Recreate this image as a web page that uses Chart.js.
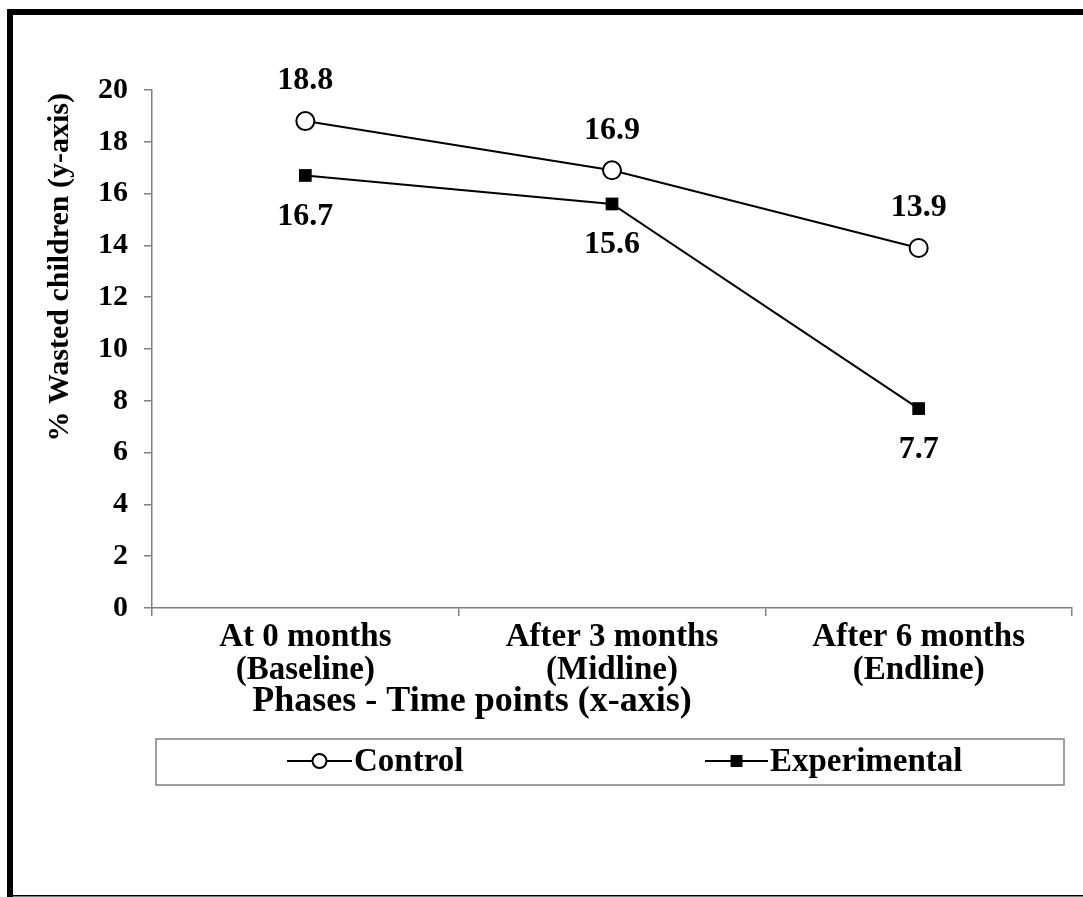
<!DOCTYPE html>
<html>
<head>
<meta charset="utf-8">
<script src="https://cdn.jsdelivr.net/npm/chart.js@4/dist/chart.umd.min.js"></script>
<style>
  html, body { margin: 0; padding: 0; background: #fff; }
  #wrap { width: 1083px; height: 897px; position: relative; }
</style>
</head>
<body>
<div id="wrap"><canvas id="wasting"></canvas></div>
<script>
var phases = [["At 0 months", "(Baseline)"], ["After 3 months", "(Midline)"], ["After 6 months", "(Endline)"]];
var controlValues = [18.8, 16.9, 13.9];
var experimentalValues = [16.7, 15.6, 7.7];
var yTicks = [0, 2, 4, 6, 8, 10, 12, 14, 16, 18, 20];

var serif = "'Liberation Serif', 'Times New Roman', serif";

// frame, value labels, axis titles and the boxed legend
var decorations = {
  id: 'decorations',
  afterDraw: function(chart) {
    var ctx = chart.ctx;
    var area = chart.chartArea;
    ctx.save();
    ctx.fillStyle = '#000';
    ctx.fillRect(7, 9, 1076, 6);
    ctx.fillRect(7, 9, 6, 888);
    ctx.fillRect(7, 895, 1076, 1.5);

    // value labels
    ctx.font = 'bold 32px ' + serif;
    ctx.textAlign = 'center';
    ctx.textBaseline = 'middle';
    chart.data.datasets.forEach(function(ds, i) {
      var meta = chart.getDatasetMeta(i);
      meta.data.forEach(function(pt, j) {
        var dy = i === 0 ? -40 : 41;
        ctx.fillText(ds.data[j].toFixed(1), pt.x, pt.y + dy);
      });
    });

    // axis titles
    ctx.font = 'bold 36px ' + serif;
    ctx.fillText('Phases - Time points (x-axis)', 472, 702);
    ctx.save();
    ctx.translate(60, 93);
    ctx.rotate(-Math.PI / 2);
    ctx.textAlign = 'right';
    ctx.font = 'bold 30px ' + serif;
    ctx.fillText('% Wasted children (y-axis)', 0, 0);
    ctx.restore();

    // legend box
    ctx.strokeStyle = '#808080';
    ctx.lineWidth = 1.5;
    ctx.strokeRect(156, 739, 908, 46);
    var items = [
      {x0: 287, x1: 352, text: 352},
      {x0: 705, x1: 768, text: 768}
    ];
    ctx.font = 'bold 33px ' + serif;
    ctx.textAlign = 'left';
    chart.data.datasets.forEach(function(ds, i) {
      var it = items[i];
      var cy = 761;
      ctx.strokeStyle = '#000';
      ctx.lineWidth = 2;
      ctx.beginPath();
      ctx.moveTo(it.x0, cy);
      ctx.lineTo(it.x1, cy);
      ctx.stroke();
      ctx.fillStyle = ds.pointBackgroundColor;
      ctx.strokeStyle = '#000';
      Chart.helpers.drawPoint(ctx, {pointStyle: ds.pointStyle, rotation: 0, radius: 7, borderWidth: 2}, (it.x0 + it.x1) / 2, cy);
      ctx.fillStyle = '#000';
      ctx.fillText(ds.label, it.text + 2, cy + 1);
    });
    ctx.restore();
  }
};

new Chart(document.getElementById('wasting'), {
  type: 'line',
  data: {
    labels: phases,
    datasets: [{
      label: 'Control',
      data: controlValues,
      borderColor: '#000',
      borderWidth: 2,
      pointStyle: 'circle',
      pointRadius: 9,
      pointBorderWidth: 2,
      pointBackgroundColor: '#fff',
      pointBorderColor: '#000',
      tension: 0
    }, {
      label: 'Experimental',
      data: experimentalValues,
      borderColor: '#000',
      borderWidth: 2,
      pointStyle: 'rect',
      pointRadius: 9,
      pointBorderWidth: 0,
      pointBackgroundColor: '#000',
      pointBorderColor: '#000',
      tension: 0
    }]
  },
  options: {
    responsive: true,
    maintainAspectRatio: false,
    animation: false,
    layout: { padding: { left: 0, top: 90, right: 4, bottom: 199 } },
    plugins: {
      legend: { display: false },
      tooltip: { enabled: false }
    },
    scales: {
      x: {
        offset: true,
        afterFit: function(scale) { scale.height = 90; },
        grid: { offset: true, drawOnChartArea: false, tickLength: 8, color: '#808080', lineWidth: 1.5 },
        border: { color: '#808080', width: 1.5 },
        ticks: {
          color: '#000',
          padding: 5,
          maxRotation: 0,
          font: { family: serif, size: 33, weight: 'bold', lineHeight: 1.0 }
        }
      },
      y: {
        min: 0,
        max: 20,
        afterFit: function(scale) { scale.width = 152; },
        afterBuildTicks: function(scale) {
          scale.ticks = yTicks.map(function(v) { return { value: v }; });
        },
        grid: { drawOnChartArea: false, tickLength: 8, color: '#808080', lineWidth: 1.5 },
        border: { color: '#808080', width: 1.5 },
        ticks: {
          color: '#000',
          padding: 16,
          font: { family: serif, size: 30, weight: 'bold' }
        }
      }
    }
  },
  plugins: [decorations]
});
</script>
</body>
</html>
